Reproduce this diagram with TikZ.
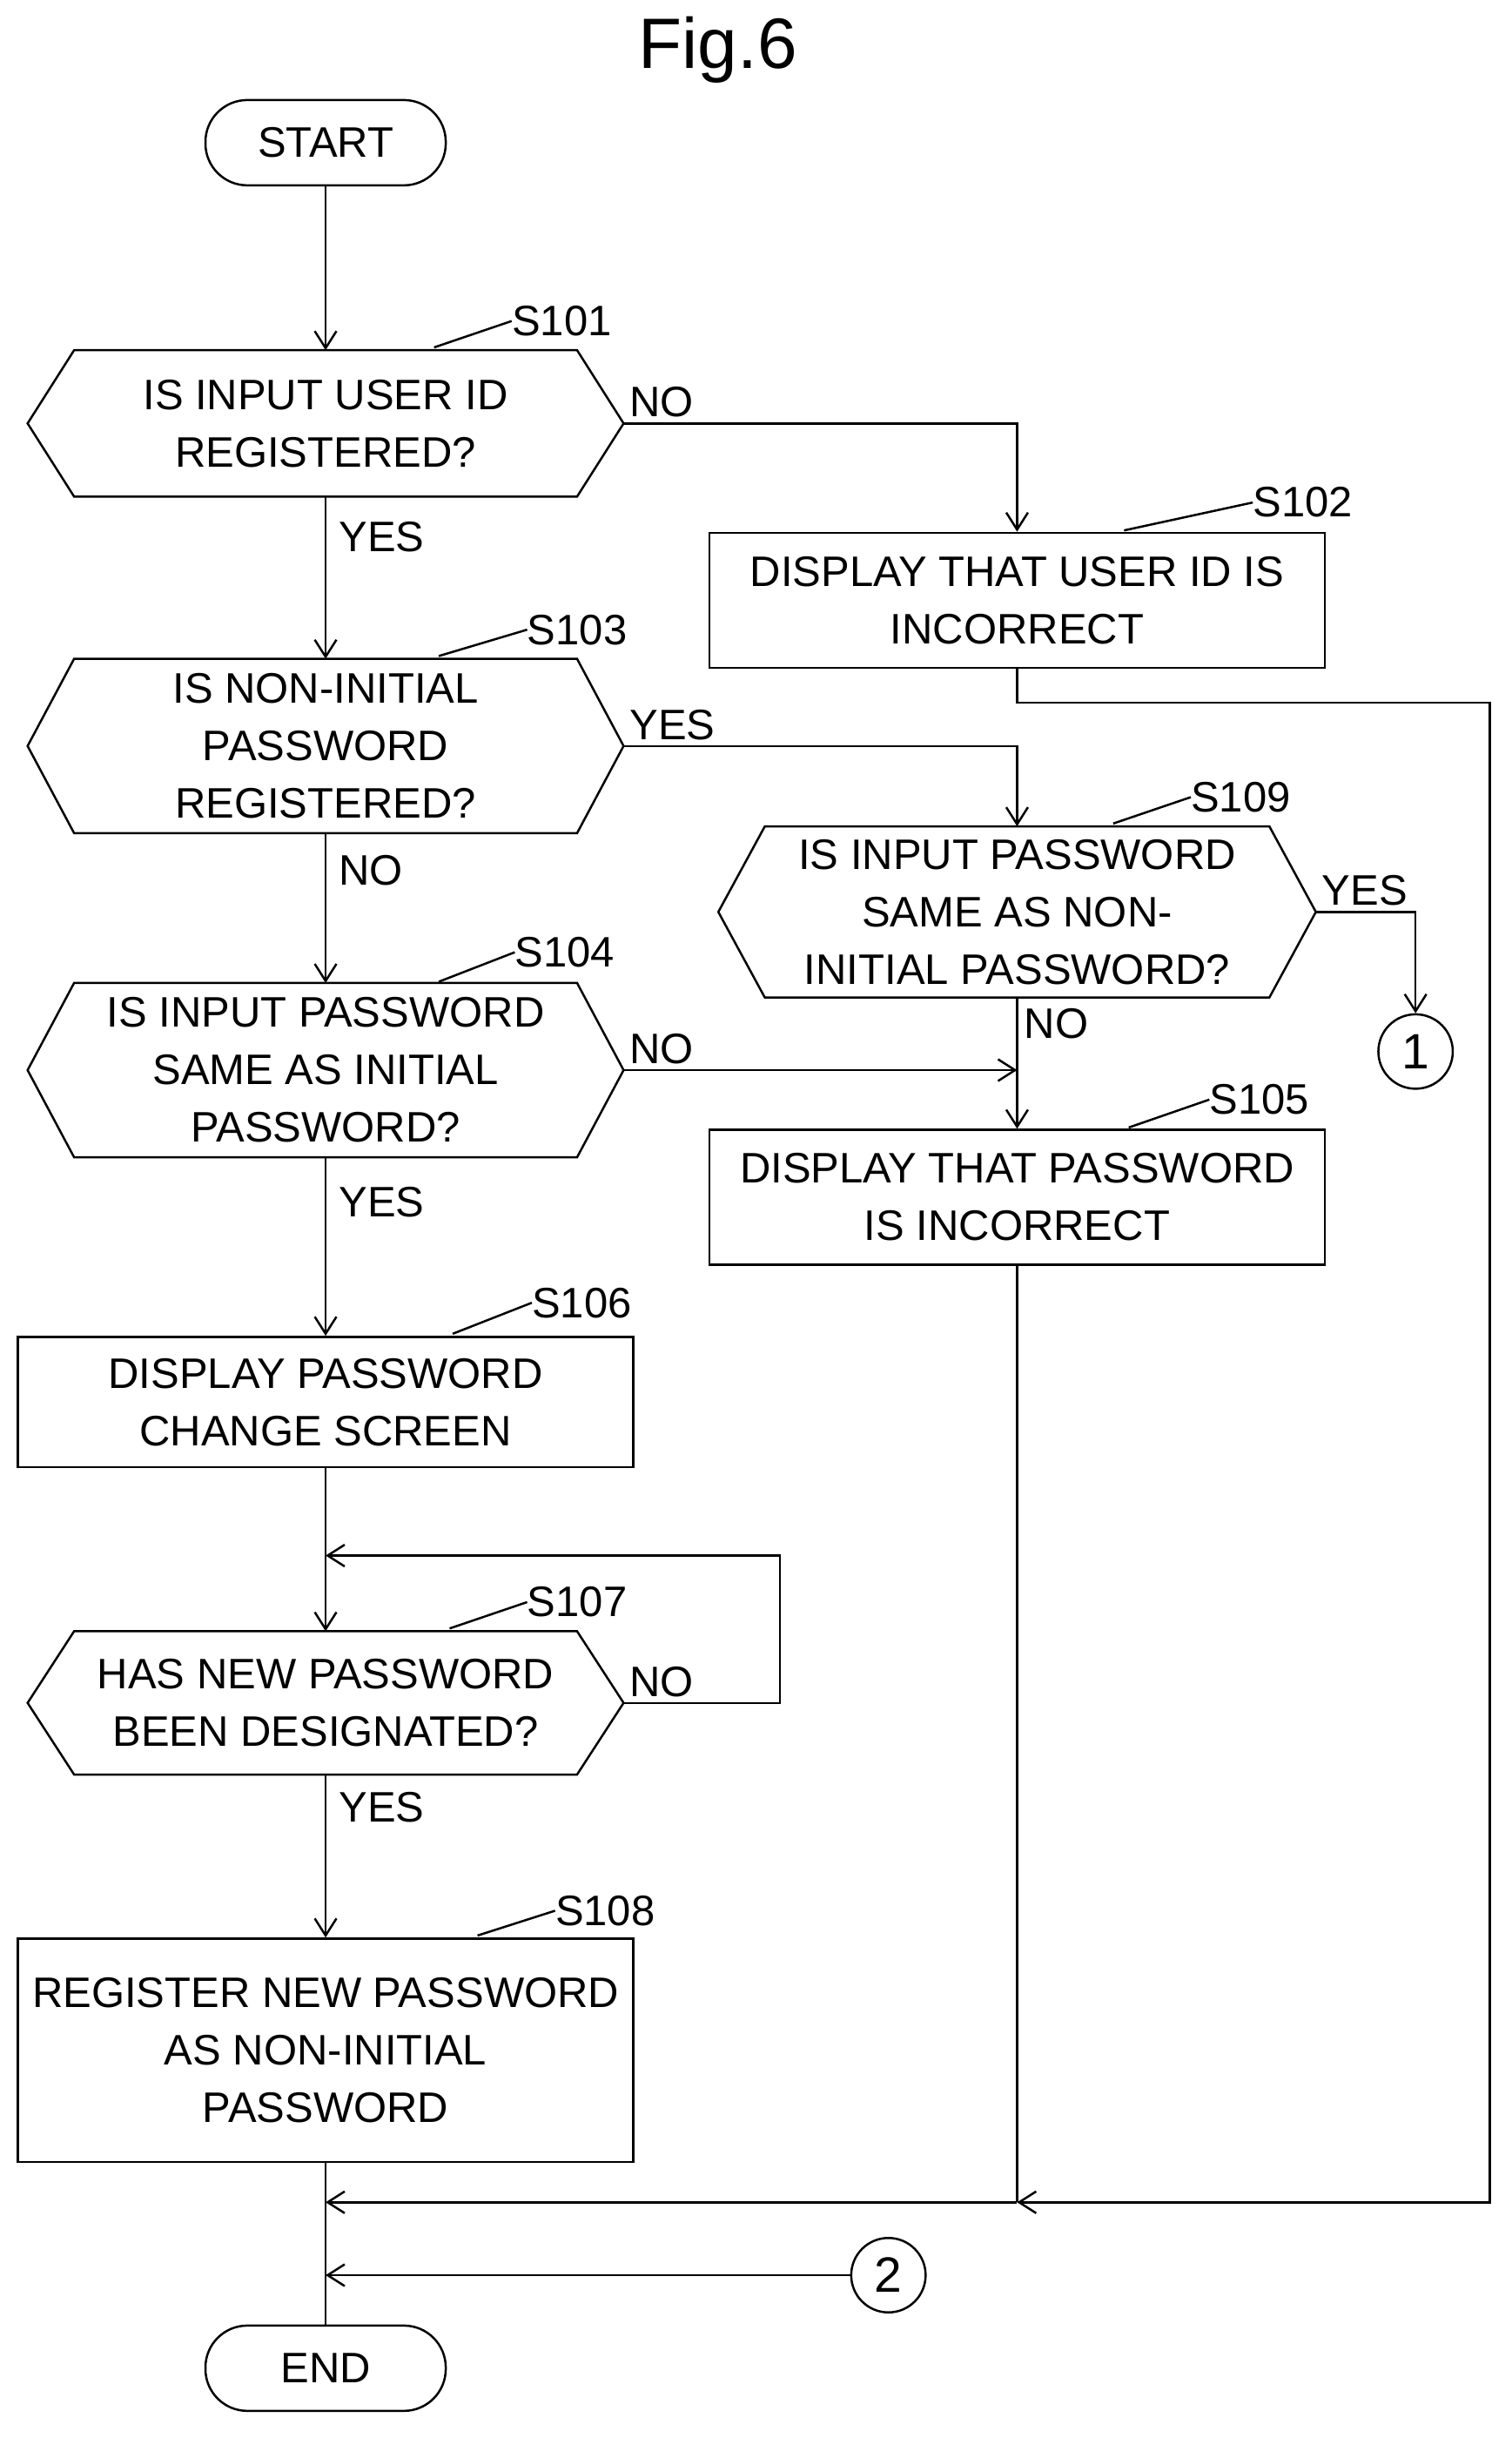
\documentclass[tikz,border=0pt]{standalone}
\usepackage{fontspec}
\setmainfont{Liberation Sans}
\usetikzlibrary{arrows.meta,positioning,calc}
\tikzset{
  every node/.style={font=\fontsize{27.5}{37}\selectfont},
  line/.style={line width=1.4pt},
  arr/.style={line, -{Straight Barb[length=11pt,width=14pt,line width=1.4pt]}},
  term/.style={draw, line width=1.4pt, rounded corners=27pt, minimum width=155pt, minimum height=55pt},
  proc/.style={draw, line width=1.4pt, align=center, minimum width=397pt},
  hex/.style={align=center, minimum width=384pt, inner sep=0pt},
  conn/.style={draw, circle, line width=1.4pt, minimum size=48pt, inner sep=0pt, font=\fontsize{32}{36}\selectfont},
  lbl/.style={anchor=west, inner sep=2pt}
}
% hexagon outline around a named node
\newcommand{\hexline}[1]{%
  \draw[line] (#1.west) -- ([xshift=30pt]#1.north west) -- ([xshift=-30pt]#1.north east)
    -- (#1.east) -- ([xshift=-30pt]#1.south east) -- ([xshift=30pt]#1.south west) -- cycle;}
\begin{document}
\begin{tikzpicture}[x=1pt,y=-1pt]
   \useasboundingbox (0,0) rectangle (975,1572);
   \node[font=\fontsize{46}{50}\selectfont] (title) at (463,32) {Fig.6};

   % left column
   \node[term] (start) at (210,92) {START};
   \node[hex, minimum height=94pt] (s101) at (210,273) {IS INPUT USER ID\\REGISTERED?};
   \hexline{s101}
   \node[hex, minimum height=112pt] (s103) at (210,481) {IS NON-INITIAL\\PASSWORD\\REGISTERED?};
   \hexline{s103}
   \node[hex, minimum height=112pt] (s104) at (210,690) {IS INPUT PASSWORD\\SAME AS INITIAL\\PASSWORD?};
   \hexline{s104}
   \node[proc, minimum height=84pt] (s106) at (210,904) {DISPLAY PASSWORD\\CHANGE SCREEN};
   \node[hex, minimum height=92pt] (s107) at (210,1098) {HAS NEW PASSWORD\\BEEN DESIGNATED?};
   \hexline{s107}
   \node[proc, minimum height=144pt] (s108) at (210,1322) {REGISTER NEW PASSWORD\\AS NON-INITIAL\\PASSWORD};
   \node[term] (end) at (210,1527) {END};

   % right column
   \node[proc, minimum height=87pt] (s102) at (656,387) {DISPLAY THAT USER ID IS\\INCORRECT};
   \node[hex, minimum height=110pt, minimum width=385pt] (s109) at (656,588) {IS INPUT PASSWORD\\SAME AS NON-\\INITIAL PASSWORD?};
   \hexline{s109}
   \node[proc, minimum height=87pt] (s105) at (656,772) {DISPLAY THAT PASSWORD\\IS INCORRECT};
   \node[conn] (c1) at (913,678) {1};
   \node[conn] (c2) at (573,1467) {2};

   % step numbers
   \foreach \n/\x/\y/\tx/\ty in {s101/280/224/330/194, s102/725/342/808/311, s103/283/423/340/393,
       s109/718/531/768/501, s104/283/633/332/601, s105/728/727/780/696, s106/292/860/343/827,
       s107/290/1050/340/1020, s108/308/1248/358/1219}
   {
     \coordinate (\n tip) at (\tx,\ty+13);
     \draw[line] (\x,\y) -- (\n tip);
     \node[anchor=west, inner sep=0pt] (\n no) at (\n tip) {\MakeUppercase\n};
   }

   % connectors
   \draw[arr] (start) -- (s101);
   \draw[arr] (s101) -- (s103) node[lbl, pos=0.25, right=6pt] {YES};
   \draw[arr] (s103) -- (s104) node[lbl, pos=0.25, right=6pt] {NO};
   \draw[arr] (s104) -- (s106) node[lbl, pos=0.25, right=6pt] {YES};
   \draw[arr] (s106) -- (s107);
   \draw[arr] (s107) -- (s108) node[lbl, pos=0.2, right=6pt] {YES};
   \draw[line] (s108) -- (end);
   \draw[arr] (s101.east) node[anchor=south west] {NO} -| (s102.north);
   \draw[arr] (s103.east) node[anchor=south west] {YES} -| (s109.north);
   \draw[arr] (s109.east) node[anchor=south west] {YES} -| (c1.north);
   \draw[arr] (s109.south) -- (s105.north) node[lbl, pos=0.2, right=2pt] {NO};
   \draw[arr] (s104.east) node[anchor=south west] {NO} -- (s104.east -| s105.north);
   \coordinate (loop) at (210,1003);
   \draw[arr] (s107.east) node[anchor=south west] {NO} -- (503,1098) -- (503,1003) -- (loop);
   \coordinate (mergeA) at (210,1420);
   \coordinate (mergeB) at (210,1467);
   \draw[line] (s105.south) -- (656,1420);
   \draw[arr] (s102.south) -- (656,453) -- (961,453) -- (961,1420) -- (656,1420);
   \draw[arr] (656,1420) -- (mergeA);
   \draw[arr] (c2.west) -- (mergeB);
\end{tikzpicture}
\end{document}
